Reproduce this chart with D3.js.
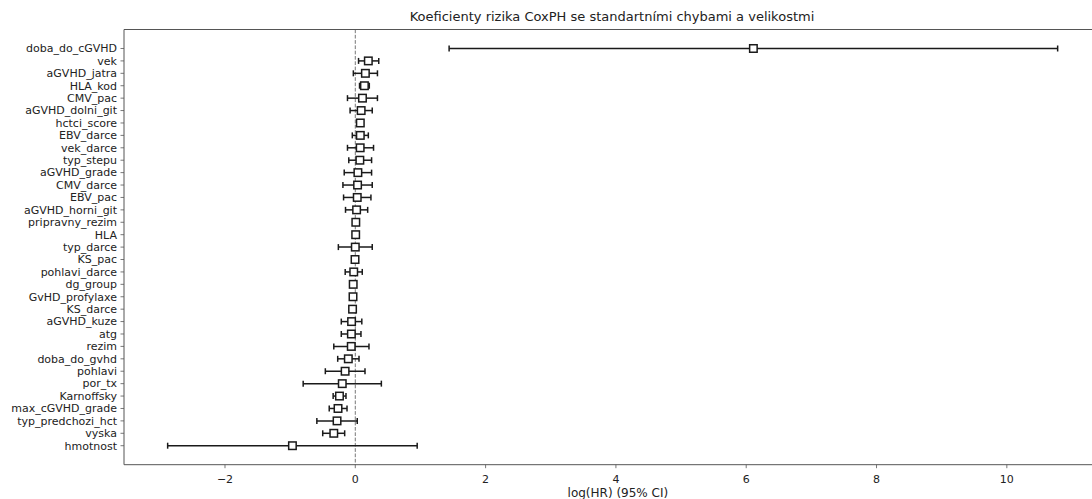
<!DOCTYPE html>
<html>
<head>
<meta charset="utf-8">
<script src="https://cdn.jsdelivr.net/npm/d3@7"></script>
<style>
  html, body { margin: 0; padding: 0; background: #fff; }
  svg { display: block; font-family: "DejaVu Sans", sans-serif; }
</style>
</head>
<body>
<svg id="chart" width="1092" height="499"></svg>
<script>
// Covariates, sorted by coefficient (largest first)
const covariates = [
  "doba_do_cGVHD", "vek", "aGVHD_jatra", "HLA_kod", "CMV_pac", "aGVHD_dolni_git",
  "hctci_score", "EBV_darce", "vek_darce", "typ_stepu", "aGVHD_grade", "CMV_darce",
  "EBV_pac", "aGVHD_horni_git", "pripravny_rezim", "HLA", "typ_darce", "KS_pac",
  "pohlavi_darce", "dg_group", "GvHD_profylaxe", "KS_darce", "aGVHD_kuze", "atg",
  "rezim", "doba_do_gvhd", "pohlavi", "por_tx", "Karnoffsky", "max_cGVHD_grade",
  "typ_predchozi_hct", "vyska", "hmotnost"
];

// log(HR) point estimates
const coef = [
  6.11, 0.20, 0.155, 0.14, 0.11, 0.09,
  0.077, 0.077, 0.075, 0.07, 0.04, 0.035,
  0.03, 0.02, 0.008, 0.006, 0.0, -0.004,
  -0.024, -0.032, -0.035, -0.042, -0.057, -0.06,
  -0.062, -0.107, -0.156, -0.20, -0.243, -0.265,
  -0.28, -0.33, -0.965
];

// 95% CI lower bounds
const ciLower = [
  1.44, 0.05, -0.03, 0.065, -0.12, -0.08,
  0.04, -0.046, -0.12, -0.10, -0.17, -0.19,
  -0.18, -0.15, 0.0, 0.0, -0.26, -0.012,
  -0.155, -0.04, -0.043, -0.05, -0.215, -0.215,
  -0.33, -0.27, -0.46, -0.80, -0.34, -0.40,
  -0.59, -0.50, -2.88
];

// 95% CI upper bounds
const ciUpper = [
  10.78, 0.36, 0.34, 0.215, 0.34, 0.26,
  0.115, 0.20, 0.28, 0.25, 0.25, 0.26,
  0.24, 0.19, 0.016, 0.012, 0.26, 0.004,
  0.107, -0.024, -0.027, -0.034, 0.10, 0.087,
  0.21, 0.057, 0.149, 0.40, -0.143, -0.127,
  0.03, -0.163, 0.95
];

const xTicks = [-2, 0, 2, 4, 6, 8, 10];

const titleText = "Koeficienty rizika CoxPH se standartními chybami a velikostmi";
const xLabelText = "log(HR) (95% CI)";

const svg = d3.select("#chart");
const plot = { left: 124, right: 1100, top: 29.5, bottom: 464.7 };

const x = d3.scaleLinear().domain([-3.55, 11.43]).range([plot.left, plot.right]);
const y = d3.scaleLinear().domain([-1.53, covariates.length - 1 + 1.53]).range([plot.top, plot.bottom]);

const rows = covariates.map((name, i) => ({ name, i, c: coef[i], lo: ciLower[i], hi: ciUpper[i] }));

const textColor = "#222";
const axisColor = "#555";

// Reference line at log(HR) = 0
svg.append("line")
  .attr("x1", x(0)).attr("x2", x(0))
  .attr("y1", plot.top).attr("y2", plot.bottom)
  .attr("stroke", "#777").attr("stroke-width", 1)
  .attr("stroke-dasharray", "3.7,1.6");

// Confidence intervals
const g = svg.append("g");
g.selectAll("line.ci").data(rows).join("line")
  .attr("class", "ci")
  .attr("x1", d => x(d.lo)).attr("x2", d => x(d.hi))
  .attr("y1", d => y(d.i)).attr("y2", d => y(d.i))
  .attr("stroke", "#1a1a1a").attr("stroke-width", 1.5);

// Caps
const capH = 3;
["lo", "hi"].forEach(k => {
  g.selectAll("line.cap-" + k).data(rows).join("line")
    .attr("class", "cap-" + k)
    .attr("x1", d => x(d[k])).attr("x2", d => x(d[k]))
    .attr("y1", d => y(d.i) - capH).attr("y2", d => y(d.i) + capH)
    .attr("stroke", "#1a1a1a").attr("stroke-width", 1.5);
});

// Point estimates as open squares
const sq = 7.5;
g.selectAll("rect.pt").data(rows).join("rect")
  .attr("class", "pt")
  .attr("x", d => x(d.c) - sq / 2).attr("y", d => y(d.i) - sq / 2)
  .attr("width", sq).attr("height", sq)
  .attr("fill", "#fff").attr("stroke", "#1a1a1a").attr("stroke-width", 1.5);

// Spines (left, top, bottom)
const spine = svg.append("g").attr("stroke", axisColor).attr("stroke-width", 1);
spine.append("line").attr("x1", plot.left).attr("x2", plot.left).attr("y1", plot.top).attr("y2", plot.bottom);
spine.append("line").attr("x1", plot.left).attr("x2", plot.right).attr("y1", plot.top).attr("y2", plot.top);
spine.append("line").attr("x1", plot.left).attr("x2", plot.right).attr("y1", plot.bottom).attr("y2", plot.bottom);

// Y axis: covariate names
const yAxis = svg.append("g");
yAxis.selectAll("line").data(rows).join("line")
  .attr("x1", plot.left - 3.5).attr("x2", plot.left)
  .attr("y1", d => y(d.i)).attr("y2", d => y(d.i))
  .attr("stroke", axisColor).attr("stroke-width", 0.8);
yAxis.selectAll("text").data(rows).join("text")
  .attr("x", plot.left - 7).attr("y", d => y(d.i))
  .attr("dy", "0.35em")
  .attr("text-anchor", "end")
  .attr("font-size", 11)
  .attr("fill", textColor)
  .text(d => d.name);

// X axis ticks
const xAxis = svg.append("g");
xAxis.selectAll("line").data(xTicks).join("line")
  .attr("x1", d => x(d)).attr("x2", d => x(d))
  .attr("y1", plot.bottom).attr("y2", plot.bottom + 3.5)
  .attr("stroke", axisColor).attr("stroke-width", 0.8);
xAxis.selectAll("text").data(xTicks).join("text")
  .attr("x", d => x(d)).attr("y", plot.bottom + 18)
  .attr("text-anchor", "middle")
  .attr("font-size", 11)
  .attr("fill", textColor)
  .text(d => d < 0 ? "\u2212" + Math.abs(d) : d);

// Axis label
svg.append("text")
  .attr("x", x(4.03)).attr("y", 497)
  .attr("text-anchor", "middle")
  .attr("font-size", 12)
  .attr("fill", textColor)
  .text(xLabelText);

// Title
svg.append("text")
  .attr("x", (plot.left + plot.right) / 2).attr("y", 21)
  .attr("text-anchor", "middle")
  .attr("font-size", 13)
  .attr("fill", textColor)
  .text(titleText);
</script>
</body>
</html>
